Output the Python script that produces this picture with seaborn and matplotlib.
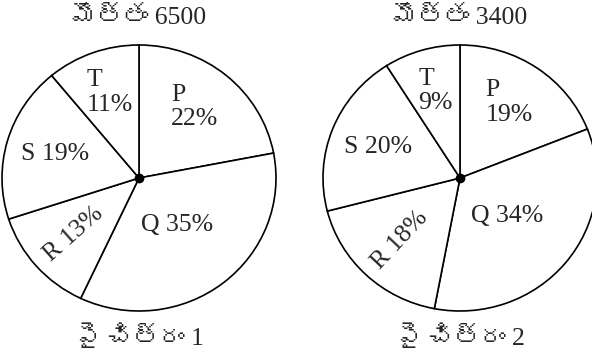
import matplotlib
matplotlib.use("Agg")
import matplotlib.pyplot as plt
import numpy as np
import seaborn as sns
from matplotlib import font_manager as fm
from matplotlib.ft2font import FT2Font

# ---- data ----
categories = ["P", "Q", "R", "S", "T"]
pie1_values = [22, 35, 13, 19, 11]
pie2_values = [19, 34, 18, 20, 9]
pie1_total_label = "మొత్తం 6500"
pie2_total_label = "మొత్తం 3400"
pie1_caption = "పై చిత్రం 1"
pie2_caption = "పై చిత్రం 2"

sns.set_theme(style="white")


def find_font_for(ch):
    for f in fm.fontManager.ttflist:
        try:
            if FT2Font(f.fname).get_char_index(ord(ch)):
                return f.name
        except Exception:
            pass
    return None


serif = "Liberation Serif"
telugu = find_font_for("మ")
title_family = [serif] + ([telugu] if telugu else []) + ["DejaVu Sans"]
plt.rcParams["font.family"] = [serif, "DejaVu Serif"]

fig = plt.figure(figsize=(5.92, 3.56), dpi=100)
W, H = 592, 356


def draw_pie(cx, values, total_label, caption):
    rx, ry, cy = 137, 133, 178
    ax = fig.add_axes([(cx - rx) / W, (H - cy - ry) / H, 2 * rx / W, 2 * ry / H])
    ax.pie(values, startangle=90, counterclock=False, radius=1.0,
           colors=["white"] * len(values),
           wedgeprops=dict(edgecolor="black", linewidth=1.2))
    ax.set_aspect("auto")
    ax.set_xlim(-1, 1)
    ax.set_ylim(-1, 1)
    ax.axis("off")
    ax.plot([0], [0], "o", color="black", ms=6, zorder=5, clip_on=False)

    start = 90.0
    fs = 18.5
    for cat, v in zip(categories, values):
        sweep = 360.0 * v / sum(values)
        mid = np.deg2rad(start - sweep / 2)
        start -= sweep
        r = 0.45 if cat == "Q" else 0.64
        x, y = r * np.cos(mid), r * np.sin(mid)
        if cat in ("P", "T"):
            ax.text(x, y + 0.04, f"{cat}\n{v}%", ha="center", va="center",
                    multialignment="left", fontsize=fs, linespacing=1.15)
        elif cat == "R":
            rot = np.rad2deg(mid) - 180
            ax.text(x, y, f"{cat} {v}%", ha="center", va="center",
                    rotation=rot, rotation_mode="anchor", fontsize=fs)
        else:
            ax.text(x, y, f"{cat} {v}%", ha="center", va="center", fontsize=fs)

    ax.text(0, 1.20, total_label, ha="center", va="center", fontsize=18.5,
            family=title_family, clip_on=False)
    ax.text(0, -1.20, caption, ha="center", va="center", fontsize=18.5,
            family=title_family, clip_on=False)


draw_pie(139, pie1_values, pie1_total_label, pie1_caption)
draw_pie(460, pie2_values, pie2_total_label, pie2_caption)

fig.savefig("out.png", dpi=100, facecolor="white")
